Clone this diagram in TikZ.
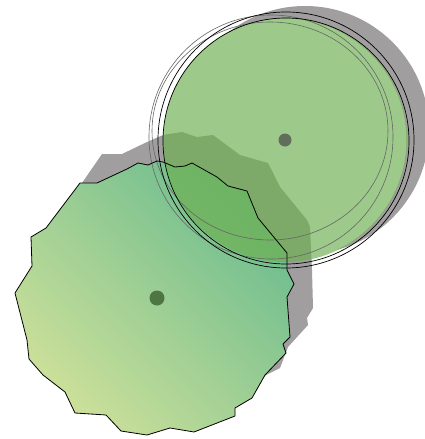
\documentclass[tikz,border=0pt]{standalone}

\definecolor{shadowgray}{RGB}{160,158,158}
\definecolor{blobtop}{RGB}{108,188,142}
\definecolor{blobbottom}{RGB}{204,224,154}
\definecolor{ringgreen}{RGB}{109,176,80}
\definecolor{blobdot}{RGB}{78,118,68}
\definecolor{ringdot}{RGB}{98,110,92}

\newcommand{\blobpath}{(157,161) -- (163,162) -- (175,167) -- (185,166) -- (192,163)
  -- (217,177) -- (228,186) -- (247,191) -- (258,218) -- (287,253) -- (287,270)
  -- (294,284) -- (287,297) -- (290,337) -- (283,344) -- (286,353) -- (265,375)
  -- (252,398) -- (235,408) -- (235,416) -- (194,432) -- (170,428) -- (147,435)
  -- (121,431) -- (106,415) -- (75,413) -- (65,392) -- (43,375) -- (29,359)
  -- (27,340) -- (15,293) -- (32,266) -- (31,237) -- (46,228) -- (80,183)
  -- (97,183) -- (127,169) -- (138,163) -- (148,165) -- cycle}

\begin{document}
\begin{tikzpicture}[
  x=1pt, y=-1pt,
  shadowfill/.style={fill=shadowgray},
  blobline/.style={draw=black, line width=0.8pt, line join=round},
  ringfill/.style={fill=ringgreen, fill opacity=0.67},
  ringdark/.style={draw=black, line width=0.7pt},
  ringlight/.style={draw=black!60, line width=0.6pt},
  dot/.style={circle, inner sep=0pt, draw=none}
]
  \useasboundingbox (0,0) rectangle (425,439);

  %% shadow of the circle, only outside the circle itself
  \begin{scope}[even odd rule]
    \clip (-10,-10) rectangle (440,450) (285,140) circle[radius=121.5pt];
    \fill[shadowfill] (305,130) circle[radius=124pt];
  \end{scope}

  %% shadow of the blob
  \fill[shadowfill] (82,183) -- (102,154) -- (122,154) -- (147,142) -- (163,135)
    -- (182,132) -- (197,137) -- (213,135) -- (240,155) -- (268,163) -- (280,187)
    -- (307,220) -- (310,227) -- (312,270) -- (313,308) -- (307,318) -- (308,325)
    -- (288,347) -- (280,368) -- (266,375) -- (250,390) -- (120,300) -- cycle;

  %% blob with gradient
  \shade[bottom color=blobbottom, top color=blobtop, shading angle=-45] \blobpath;

  %% circle, see-through
  \fill[ringfill] (285,140) circle[radius=122pt];

  %% sketchy rings
  \draw[ringlight] (271,137) circle[radius=122pt];
  \draw[ringlight] (270,131) ellipse[x radius=118pt, y radius=109pt];
  \draw[ringdark] (286,140) circle[radius=128pt];
  \draw[ringdark] (286,141) circle[radius=123pt];

  %% blob outline on top
  \draw[blobline] \blobpath;

  %% centre dots
  \node[dot, fill=blobdot, minimum size=15pt] (blobc) at (157,298) {};
  \node[dot, fill=ringdot, minimum size=13pt] (ringc) at (285,140) {};
\end{tikzpicture}
\end{document}
